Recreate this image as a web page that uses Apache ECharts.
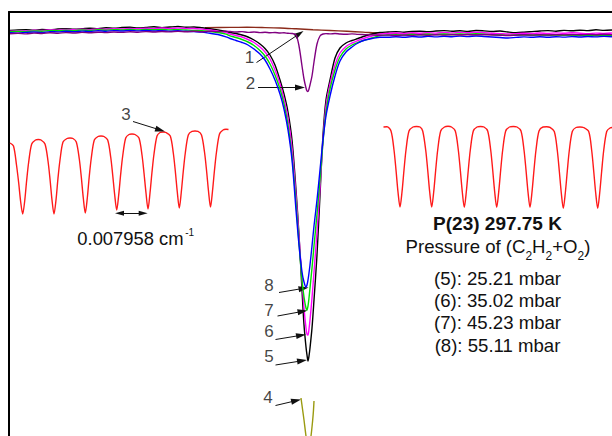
<!DOCTYPE html>
<html><head><meta charset="utf-8">
<script src="https://cdn.jsdelivr.net/npm/echarts@6/dist/echarts.min.js"></script>
<style>html,body{margin:0;padding:0;background:#fff}#c{width:612px;height:436px}</style>
</head><body><div id="c"></div>
<script>
// x: relative wavenumber position (arb. units), y: absorption signal (arb. units, increasing downward)
const xLeft = [10,18,26,34,42,50,58,66,74,82,90,98,106,114,122,130,138,146,154,162,170,178,186,194,202,210,218,226];
const xCore = [230,236,242,248,254,260,265,270,275,280,284,288,292,296,299,302,304,306,307,308,309,310,312,314,317,320,323,326,330,335,340,346,352,358,365,372,380];
const xRight = [388,396,404,412,420,428,436,444,452,460,468,476,484,492,500,508,516,524,532,540,548,556,564,572,580,588,596,604,612];

// (5) 25.21 mbar - black
const blackLeft = [30.5,30.0,29.8,30.3,29.4,29.8,29.0,28.6,29.2,28.8,28.2,28.7,27.8,28.3,27.5,27.2,28.0,27.4,26.8,27.6,27.0,26.5,27.2,27.0,27.8,28.8,30.0,31.5];
const blackCore = [32.5,33.5,35,37,40,44,48.5,55,65,80,94,112,140,190,235,290,325,347,355,361,356,348,328,300,255,195,135,100,80,58,48,43,40.5,38.5,36,34,32.5];
const blackRight = [32.0,31.6,32.2,31.5,31.2,31.8,31.0,30.6,31.2,30.8,31.4,30.5,30.9,31.5,31.0,32.0,32.6,32.2,31.6,31.0,30.6,31.2,30.4,30.8,30.2,30.6,29.8,30.4,30.0];
// (6) 35.02 mbar - magenta
const magentaLeft = [31.2,30.6,31.0,30.2,30.5,29.7,30.1,29.4,29.8,29.2,29.6,28.9,29.3,28.7,29.0,28.4,28.8,28.2,28.6,28.0,28.5,28.1,28.4,28.5,29.1,30.0,31.2,32.6];
const magentaCore = [34,35.5,37,39.5,42.5,47,52,59,70,84,99,118,148,195,237,280,308,328,334,335,329,320,298,272,232,188,140,106,84,65,53,46.5,43,40.5,38,36,34];
const magentaRight = [33.4,33.0,33.5,32.8,33.2,32.6,33.1,32.5,32.9,32.4,32.8,32.3,32.7,33.2,33.6,34.0,33.6,33.2,33.5,33.0,33.4,32.9,33.3,32.8,33.2,33.6,33.1,33.5,33.0];
// (7) 45.23 mbar - green
const greenLeft = [31.8,31.3,31.6,30.9,31.2,30.5,30.8,30.2,30.6,30.0,30.4,29.8,30.2,29.6,30.0,29.5,29.9,29.4,29.8,29.5,29.9,29.6,30.0,30.4,30.6,31.5,32.5,34.2];
const greenCore = [35.8,37.5,39.5,42,45.5,50.5,56,64,75,89,104,125,156,203,243,280,297,308,310,306,298,288,268,246,214,180,142,112,89,70,57,49,45,42.5,40,38,35.5];
const greenRight = [35.0,34.6,35.1,34.4,34.8,34.2,34.6,34.0,34.5,33.9,34.3,33.8,34.2,34.6,35.0,35.4,35.1,34.7,35.2,34.8,35.3,34.9,35.4,35.0,35.6,35.2,35.8,35.4,35.8];
// (8) 55.11 mbar - blue
const blueLeft = [32.6,33.1,32.4,32.0,32.6,31.6,31.9,31.3,31.8,31.1,31.5,30.8,31.2,30.6,31.0,30.4,30.9,30.5,31.0,30.6,31.2,30.8,31.3,31.6,32.0,33.3,34.5,36.8];
const blueCore = [38.5,40.5,42.5,45,49,54,60,69,80,94,109,130,160,210,245,272,282,287,285,280,273,265,246,226,200,170,140,116,96,76,61,52,47,43,40,38.5,37.2];
const blueRight = [37.2,36.8,37.3,36.6,37.0,36.4,36.9,36.3,36.7,36.1,36.6,36.0,36.5,37.0,37.5,38.0,37.4,36.9,37.3,36.8,37.2,36.7,37.1,36.6,37.0,36.5,36.9,36.4,36.8];
// (2) purple
const purpleLeft = [33.8,33.3,33.9,33.1,33.5,32.8,33.2,32.6,33.0,32.4,32.8,32.2,32.6,32.0,32.4,31.8,32.2,31.6,32.0,31.5,31.9,31.4,31.8,31.3,31.7,31.2,31.6,31.1];
const purpleCore = [31.5,32,31.6,32.4,32,32.6,32.3,32.8,32.5,33,32.8,33.3,33.5,35,46,66,79,88,91,91.5,89,85,76,62,44,36,34,33.6,33.9,33.5,34,34.3,33.9,34.4,34.6,34.9,35.2];
const purpleRight = [35.0,35.5,35.0,35.4,34.8,35.3,34.7,35.1,34.6,35.0,34.5,34.9,34.4,34.8,35.2,35.6,35.2,34.8,35.1,34.7,35.0,34.6,34.9,34.5,34.8,34.4,34.7,34.3,34.6];
// (1) brown baseline
const brownX = [205,230,247,265,280,296,313,330,347,363,380,400,430,470,520,570,612];
const brownY = [27.8,27.4,27.3,27.6,28,28.8,29.7,30.5,31.3,32.1,33,33.6,34.2,34.6,34.9,35.0,35.0];
// (4) olive
const oliveX = [301,302.5,304,306,308.5,311,312.7,313.5,314];
const oliveY = [398,409,420,436,452,436,420,410,401];
// (3) etalon fringes, red
const etalonLeftX = [10,13.5,16.5,18.7,20.7,22.7,24.7,26.7,28.7,31.7,35.5,38.3,41,45,48,50,52,54,56,58,60,63,67,70,73,76.3,79.3,81.3,83.3,85.3,87.3,89.3,91.3,94.3,98,101,104,107.7,110.7,112.7,114.7,116.7,118.7,120.7,122.7,125.7,129,132,135,139,142,144,146,148,150,152,154,157,160,163,166,170.3,173.3,175.3,177.3,179.3,181.3,183.3,185.3,188.3,192,195,198,201.5,204.5,206.5,208.5,210.5,212.5,214.5,216.5,219.5,223,226,228.5];
const etalonLeftY = [143,146,165,183,202,214,201,180,162,144,140,139.5,140,144,161,179,200,214,200,178,160,142,138.5,138,138.5,142,159,177,198,213,198,176,158,140,136.5,136,136.5,140,157,175,195,210,195,174,156,138,134.5,134,134.5,138,155,173,193,209,193,172,154,136,132.5,132,132.5,136,153,171,192,208,192,171,153,135,131.3,131,131.3,135,152,170,191,207,191,170,152,134,130,129.3,129.5];
const etalonRightX = [383.5,387,391,394,396,398,400,402,404,406,409,413,416.5,420,422.7,425.7,427.7,429.7,431.7,433.7,435.7,437.7,440.7,444.5,448,451.5,455.3,458.3,460.3,462.3,464.3,466.3,468.3,470.3,473.3,477,480.5,484,487.7,490.7,492.7,494.7,496.7,498.7,500.7,502.7,505.7,509.5,513.3,517,521,524,526,528,530,532,534,536,539,543,546.7,550,554.3,557.3,559.3,561.3,563.3,565.3,567.3,569.3,572.3,576,580,583.5,588.7,591.7,593.7,595.7,597.7,599.7,601.7,603.7,606.7,610,613];
const etalonRightY = [127,126.8,131,150,170,192,207,192,170,150,131,127,126.5,127,131,150,170,192,207,192,170,150,131,127,126.3,127,131,150,170,192,207.3,192,170,150,131,127,126.5,127,131,150,170,192,207.3,192,170,150,131,127,126.5,127,131,150,170,192,207.3,192,170,150,131,127,126.7,127.3,131.5,150.5,171,193,208.3,193,171,150.5,131.5,127.5,127,127.5,131.5,150.5,171,193,208.3,193,171,150.5,131.5,128,127.5];

// annotations: label, text position, arrow tail, arrow tip
const annotationLabels = ['1','2','3','4','5','6','7','8'];
const annotationText = [[249.5,57.5],[250.5,83],[126,114],[268,397],[269,356.5],[269,331.5],[269,310.5],[269,285.5]];
const annotationTail = [[256.5,62.5],[258,87.5],[133,121.5],[275.5,405.5],[275.5,365],[275.5,339.5],[277.5,316],[279,292.5]];
const annotationTip = [[303.5,31],[305,87.5],[165,131.5],[301,399.5],[307,360],[306,334.5],[307.5,310.5],[308.5,287.5]];
const fsrArrow = [[115,213.3],[147.7,213.3]];

const fsrText = '0.007958 cm';
const fsrSup = '-1';
const infoTitle = 'P(23) 297.75 K';
const pressureParts = [['Pressure of (C',0],['2',1],['H',0],['2',1],['+O',0],['2',1],[')',0]];
const pressureLines = ['(5): 25.21 mbar','(6): 35.02 mbar','(7): 45.23 mbar','(8): 55.11 mbar'];

const FONT = '"Liberation Sans", Arial, Helvetica, sans-serif';
const zip = (xs, ys) => xs.map((x, i) => [x, ys[i]]);
const xMain = xLeft.concat(xCore, xRight);

function lineSeries(name, data, color, z) {
  return { name, type: 'line', data, showSymbol: false, symbol: 'none', smooth: 0.3,
    lineStyle: { color, width: 1.4 }, itemStyle: { color }, silent: true, z: z || 2, clip: true };
}

const chart = echarts.init(document.getElementById('c'), null, { renderer: 'svg' });

const ctx = document.createElement('canvas').getContext('2d');
function measure(t, size, weight) { ctx.font = (weight || 'normal') + ' ' + size + 'px ' + FONT; return ctx.measureText(t).width; }

function shorten(tail, tip, d) {
  const dx = tip[0] - tail[0], dy = tip[1] - tail[1];
  const L = Math.hypot(dx, dy);
  return [tip[0] - dx / L * d, tip[1] - dy / L * d];
}
const HEAD = [6, 10];
const arrowData = annotationTail.map((t, i) => [
  { coord: t, symbol: 'none' },
  { coord: shorten(t, annotationTip[i], 5), symbol: 'triangle', symbolSize: HEAD }
]);
arrowData.push([
  { coord: shorten(fsrArrow[1], fsrArrow[0], 4.5), symbol: 'triangle', symbolSize: [5, 9] },
  { coord: shorten(fsrArrow[0], fsrArrow[1], 4.5), symbol: 'triangle', symbolSize: [5, 9] }
]);

const graphics = [];
const MAIN = 18.6, SUB = 12, LEFTF = 18.4;
// FSR label
const fsrX = 77.3, fsrY = 238;
graphics.push({ type: 'text', x: fsrX, y: fsrY, style: { text: fsrText, font: LEFTF + 'px ' + FONT, fill: '#111', textAlign: 'left', textVerticalAlign: 'middle' } });
graphics.push({ type: 'text', x: fsrX + measure(fsrText, LEFTF) + 1.5, y: fsrY - 6, style: { text: fsrSup, font: '10px ' + FONT, fill: '#111', textAlign: 'left', textVerticalAlign: 'middle' } });
// info block
const cx = 497.5;
graphics.push({ type: 'text', x: cx, y: 223.3, style: { text: infoTitle, font: 'bold 19px ' + FONT, fill: '#111', textAlign: 'center', textVerticalAlign: 'middle' } });
let total = 0;
pressureParts.forEach(p => { total += measure(p[0], p[1] ? SUB : MAIN); });
let px = cx + 0.5 - total / 2;
pressureParts.forEach(p => {
  const size = p[1] ? SUB : MAIN;
  graphics.push({ type: 'text', x: px, y: 246.2 + (p[1] ? 9.8 : 0), style: { text: p[0], font: size + 'px ' + FONT, fill: '#111', textAlign: 'left', textVerticalAlign: 'middle' } });
  px += measure(p[0], size);
});
const lineYs = [278, 300.3, 322.5, 345];
pressureLines.forEach((t, i) => {
  graphics.push({ type: 'text', x: cx, y: lineYs[i], style: { text: t, font: MAIN + 'px ' + FONT, fill: '#111', textAlign: 'center', textVerticalAlign: 'middle' } });
});

const frameAxis = { show: true, axisLine: { show: true, onZero: false, lineStyle: { color: '#000', width: 2 } },
  axisTick: { show: false }, axisLabel: { show: false }, splitLine: { show: false } };

const option = {
  animation: false,
  backgroundColor: '#fff',
  grid: { left: 9, top: 12, right: 0, bottom: 0, show: false },
  xAxis: Object.assign({ type: 'value', min: 9, max: 612, position: 'top' }, frameAxis),
  yAxis: Object.assign({ type: 'value', min: 12, max: 436, inverse: true, position: 'left' }, frameAxis),
  series: [
    lineSeries('1', zip(brownX, brownY), '#8b2a1a', 2),
    lineSeries('3a', zip(etalonLeftX, etalonLeftY), '#ff1a1a', 3),
    lineSeries('3b', zip(etalonRightX, etalonRightY), '#ff1a1a', 3),
    lineSeries('5', zip(xMain, blackLeft.concat(blackCore, blackRight)), '#000000', 3),
    lineSeries('6', zip(xMain, magentaLeft.concat(magentaCore, magentaRight)), '#ff00ff', 4),
    lineSeries('7', zip(xMain, greenLeft.concat(greenCore, greenRight)), '#00dd00', 5),
    lineSeries('8', zip(xMain, blueLeft.concat(blueCore, blueRight)), '#0000ff', 6),
    lineSeries('2', zip(xMain, purpleLeft.concat(purpleCore, purpleRight)), '#800080', 7),
    lineSeries('4', zip(oliveX, oliveY), '#9a9a10', 7),
    {
      name: 'annotations', type: 'scatter', symbolSize: 0, silent: true, z: 10,
      data: annotationLabels.map((l, i) => ({ name: l, value: annotationText[i] })),
      label: { show: true, position: 'inside', formatter: '{b}', fontSize: 17, fontFamily: FONT, color: '#111' },
      markLine: {
        silent: true, animation: false,
        symbol: ['none', 'triangle'],
        label: { show: false },
        lineStyle: { color: '#111', width: 1, type: 'solid' },
        itemStyle: { color: '#111' },
        emphasis: { disabled: true },
        data: arrowData
      }
    }
  ],
  graphic: graphics
};
chart.setOption(option);
</script></body></html>
